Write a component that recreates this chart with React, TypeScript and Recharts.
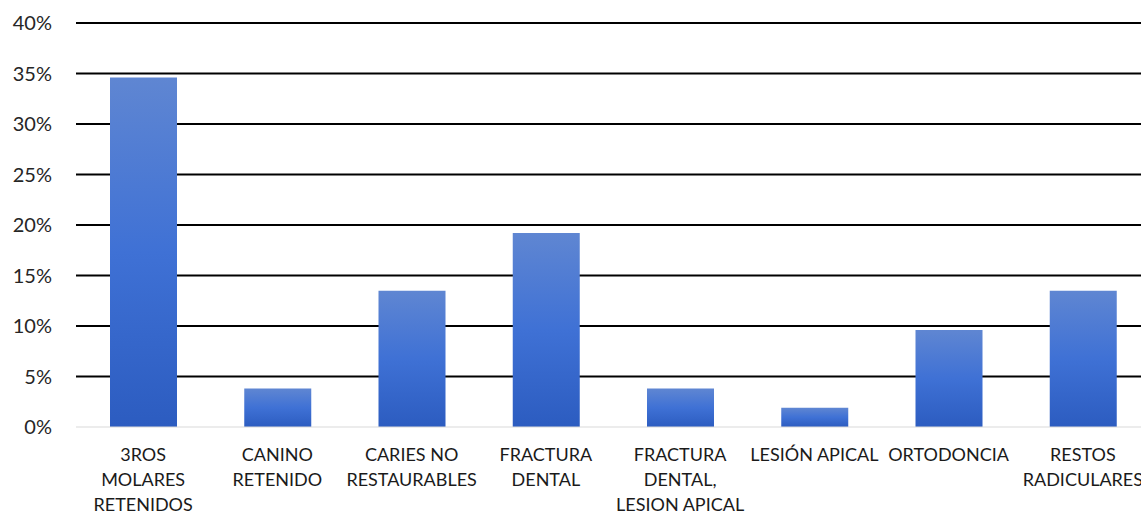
import { BarChart, Bar, XAxis, YAxis, CartesianGrid } from "recharts"

const categories = [
  "3ROS MOLARES RETENIDOS",
  "CANINO RETENIDO",
  "CARIES NO RESTAURABLES",
  "FRACTURA DENTAL",
  "FRACTURA DENTAL, LESION APICAL",
  "LESIÓN APICAL",
  "ORTODONCIA",
  "RESTOS RADICULARES",
]

const labelLines = [
  ["3ROS", "MOLARES", "RETENIDOS"],
  ["CANINO", "RETENIDO"],
  ["CARIES NO", "RESTAURABLES"],
  ["FRACTURA", "DENTAL"],
  ["FRACTURA", "DENTAL,", "LESION APICAL"],
  ["LESIÓN APICAL"],
  ["ORTODONCIA"],
  ["RESTOS", "RADICULARES"],
]

const percents = [34.6, 3.8, 13.5, 19.2, 3.8, 1.9, 9.6, 13.5]

const yTicks = [0, 5, 10, 15, 20, 25, 30, 35, 40]

const data = categories.map((c, i) => ({ name: c, value: percents[i] }))

const font = "Lato, 'Open Sans', sans-serif"

function CategoryTick(props: any) {
  const { x, y, payload } = props
  const lines = labelLines[payload.index] || [payload.value]
  return (
    <g>
      {lines.map((l, i) => (
        <text
          key={i}
          x={x}
          y={y + 26 + i * 25}
          textAnchor="middle"
          fontSize={18}
          fontFamily={font}
          fill="#1a1a1a"
        >
          {l}
        </text>
      ))}
    </g>
  )
}

export default function App() {
  return (
    <div style={{ position: "absolute", left: 0, top: 0, width: 1141, height: 517, overflow: "hidden", background: "#fff" }}>
      {/* gradient kept outside the chart so the id always resolves */}
      <svg width={0} height={0} style={{ position: "absolute" }}>
        <defs>
          <linearGradient id="barFill" x1="0" y1="0" x2="0" y2="1">
            <stop offset="0%" stopColor="#5f86d2" />
            <stop offset="50%" stopColor="#3f71d5" />
            <stop offset="100%" stopColor="#2c5cc0" />
          </linearGradient>
        </defs>
      </svg>
      <BarChart
        width={1150}
        height={517}
        data={data}
        margin={{ top: 23, right: 0, left: 0, bottom: 0 }}
      >
        <CartesianGrid
          vertical={false}
          stroke="#000"
          strokeWidth={2}
          horizontalValues={[5, 10, 15, 20, 25, 30, 35, 40]}
        />
        <XAxis
          dataKey="name"
          axisLine={{ stroke: "#d9d9d9", strokeWidth: 1 }}
          tickLine={false}
          interval={0}
          height={90}
          tick={<CategoryTick />}
        />
        <YAxis
          domain={[0, 40]}
          ticks={yTicks}
          width={76}
          axisLine={false}
          tickLine={false}
          tickMargin={18}
          tickFormatter={(v: number) => `${v}%`}
          tick={{ fontSize: 20, fontFamily: font, fill: "#262626" }}
        />
        <Bar dataKey="value" fill="url(#barFill)" barSize={67} isAnimationActive={false} />
      </BarChart>
    </div>
  )
}
